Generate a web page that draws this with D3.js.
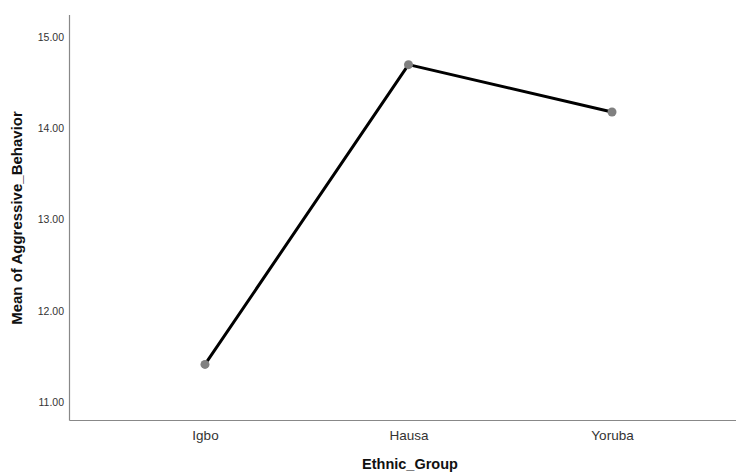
<!DOCTYPE html>
<html>
<head>
<meta charset="utf-8">
<script src="https://cdn.jsdelivr.net/npm/d3@7"></script>
<style>
  html, body { margin: 0; padding: 0; background: #fff; }
  svg { display: block; }
</style>
</head>
<body>
<svg id="chart" width="737" height="473"></svg>
<script>
const categories = ["Igbo", "Hausa", "Yoruba"];
const means = [11.41, 14.70, 14.18];
const yTicks = [11, 12, 13, 14, 15];
const xTitle = "Ethnic_Group";
const yTitle = "Mean of Aggressive_Behavior";

(function () {
const svg = d3.select("#chart");
const mLeft = 70, mRight = 736, mTop = 15, mBottom = 420;

const x = d3.scalePoint().domain(categories).range([205, 612]);
const y = d3.scaleLinear().domain([10.8, 15.245]).range([mBottom, mTop]);

// axes
const yAxis = svg.append("g").attr("transform", `translate(${mLeft},0)`)
  .call(d3.axisLeft(y).tickValues(yTicks).tickSize(0).tickPadding(6).tickFormat(d3.format(".2f")));
yAxis.select(".domain").remove();
yAxis.selectAll("text").attr("font-family", "Liberation Sans, Arial, sans-serif")
  .attr("font-size", "10.5px").attr("fill", "#333");

const xAxis = svg.append("g").attr("transform", `translate(0,${mBottom})`)
  .call(d3.axisBottom(x).tickSize(0).tickPadding(10));
xAxis.select(".domain").remove();
xAxis.selectAll("text").attr("font-family", "Liberation Sans, Arial, sans-serif")
  .attr("font-size", "13.5px").attr("fill", "#333");

svg.append("line").attr("x1", mLeft - 0.5).attr("x2", mLeft - 0.5).attr("y1", mTop).attr("y2", mBottom + 0.5)
  .attr("stroke", "#888").attr("stroke-width", 1.2);
svg.append("line").attr("x1", mLeft - 0.5).attr("x2", mRight).attr("y1", mBottom + 0.5).attr("y2", mBottom + 0.5)
  .attr("stroke", "#888").attr("stroke-width", 1.2);

// line
const data = categories.map((c, i) => ({ c, v: means[i] }));
svg.append("path").datum(data)
  .attr("fill", "none").attr("stroke", "#000").attr("stroke-width", 3)
  .attr("stroke-linejoin", "round")
  .attr("d", d3.line().x(d => x(d.c)).y(d => y(d.v)));

svg.selectAll("circle.pt").data(data).enter().append("circle")
  .attr("class", "pt").attr("cx", d => x(d.c)).attr("cy", d => y(d.v))
  .attr("r", 4.5).attr("fill", "#808080");

// titles
svg.append("text").attr("x", 410).attr("y", 469).attr("text-anchor", "middle")
  .attr("font-family", "Liberation Sans, Arial, sans-serif").attr("font-weight", "bold")
  .attr("font-size", "14.5px").attr("fill", "#111").text(xTitle);

svg.append("text").attr("transform", "translate(22,218) rotate(-90)").attr("text-anchor", "middle")
  .attr("font-family", "Liberation Sans, Arial, sans-serif").attr("font-weight", "bold")
  .attr("font-size", "15px").attr("fill", "#111").text(yTitle);
})();
</script>
</body>
</html>
